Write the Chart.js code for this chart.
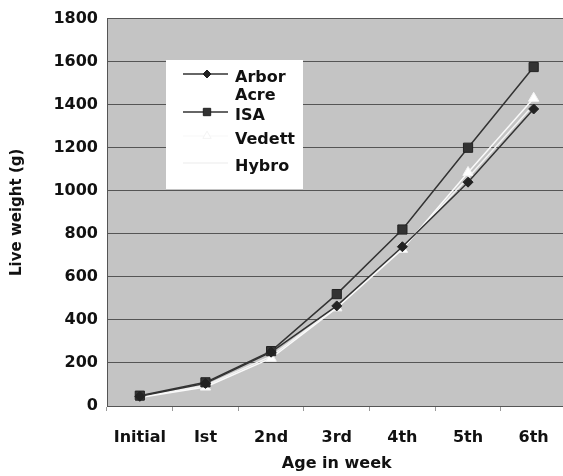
<!DOCTYPE html>
<html>
<head>
<meta charset="utf-8">
<script src="https://cdn.jsdelivr.net/npm/chart.js@4"></script>
<style>
  html, body { margin: 0; padding: 0; background: #fff; overflow: hidden; }
  #wrap { position: relative; width: 574px; height: 476px; }
</style>
</head>
<body>
<div id="wrap"><canvas id="growth-chart" width="574" height="476"></canvas></div>
<script>
// values (live weight, g)
const weeks = ["Initial", "Ist", "2nd", "3rd", "4th", "5th", "6th"];
const arborAcre = [45, 105, 250, 465, 740, 1040, 1380];
const isa = [48, 110, 255, 520, 820, 1200, 1575];
const vedett = [40, 88, 222, 456, 728, 1085, 1430];
const hybro = [42, 95, 232, 460, 735, 1060, 1400];
const yTicks = [0, 200, 400, 600, 800, 1000, 1200, 1400, 1600, 1800];

const FONT = "'DejaVu Sans', sans-serif";
const DARK = "#333";

// gray plot area like the old spreadsheet chart
const plotBackground = {
  id: "plotBackground",
  beforeDraw(chart) {
    const { ctx, chartArea: a } = chart;
    ctx.save();
    ctx.fillStyle = "#c4c4c4";
    ctx.fillRect(a.left, a.top, a.right - a.left, a.bottom - a.top);
    ctx.restore();
  },
};

// legend box drawn inside the plot
const insideLegend = {
  id: "insideLegend",
  afterDatasetsDraw(chart, args, opts) {
    const { ctx } = chart;
    ctx.save();
    ctx.fillStyle = "#fff";
    ctx.fillRect(opts.left, opts.top, opts.width, opts.height);
    ctx.font = "bold 16px " + FONT;
    ctx.textBaseline = "middle";
    chart.data.datasets.forEach((ds, i) => {
      const y = opts.rows[i];
      const my = y - 4;
      ctx.strokeStyle = ds.borderColor;
      ctx.lineWidth = ds.borderWidth;
      ctx.beginPath();
      ctx.moveTo(opts.left + 17, my);
      ctx.lineTo(opts.left + 62, my);
      ctx.stroke();
      if (ds.pointRadius > 0) {
        ctx.fillStyle = ds.pointBackgroundColor;
        ctx.strokeStyle = ds.pointBorderColor;
        ctx.lineWidth = 1;
        Chart.helpers.drawPoint(ctx, {
          pointStyle: ds.pointStyle,
          radius: ds.pointRadius * 0.8,
          borderWidth: 1,
        }, opts.left + 41, my);
      }
      // crude word wrap
      const words = ds.label.split(" ");
      const lines = [];
      let cur = "";
      words.forEach(w => {
        const t = cur ? cur + " " + w : w;
        if (cur && ctx.measureText(t).width > 62) { lines.push(cur); cur = w; }
        else cur = t;
      });
      lines.push(cur);
      ctx.fillStyle = "#111";
      lines.forEach((ln, k) => ctx.fillText(ln, opts.left + 69, y + k * 18));
    });
    ctx.restore();
  },
};

function pointSet(ds) {
  return Object.assign({
    borderWidth: 1.5,
    pointBorderWidth: 1,
    tension: 0,
  }, ds);
}

new Chart(document.getElementById("growth-chart"), {
  type: "line",
  data: {
    labels: weeks,
    datasets: [
      pointSet({ label: "Arbor Acre", data: arborAcre, borderColor: DARK,
        pointStyle: "rectRot", pointRadius: 5, pointBackgroundColor: "#222", pointBorderColor: "#222" }),
      pointSet({ label: "ISA", data: isa, borderColor: DARK,
        pointStyle: "rect", pointRadius: 6.5, pointBackgroundColor: "#333", pointBorderColor: "#222" }),
      pointSet({ label: "Vedett", data: vedett, borderColor: "#fafafa",
        pointStyle: "triangle", pointRadius: 6, pointBackgroundColor: "#fff", pointBorderColor: "#f4f4f4" }),
      pointSet({ label: "Hybro", data: hybro, borderColor: "#f2f2f2",
        pointStyle: "circle", pointRadius: 0, pointBackgroundColor: "#fff", pointBorderColor: "#fff" }),
    ],
  },
  options: {
    responsive: false,
    animation: false,
    layout: { padding: { left: 0, right: 1, top: 15, bottom: 0 } },
    plugins: {
      legend: { display: false },
      tooltip: { enabled: false },
      insideLegend: { left: 166, top: 60, width: 137, height: 129, rows: [78, 116, 140, 167] },
    },
    scales: {
      x: {
        offset: true,
        grid: { offset: true, drawOnChartArea: false, drawTicks: true, tickLength: 5, color: "#999" },
        border: { color: "#555", width: 1 },
        ticks: { color: "#111", font: { family: FONT, size: 16, weight: "bold" }, padding: 17, maxRotation: 0 },
        title: { display: true, text: "Age in week", color: "#111", font: { family: FONT, size: 16, weight: "bold" }, padding: { top: 0, bottom: 3 } },
        afterFit(scale) { scale.height = 70; },
      },
      y: {
        min: 0,
        max: 1800,
        afterBuildTicks(scale) { scale.ticks = yTicks.map(v => ({ value: v })); },
        grid: { drawTicks: false, color: "#555", lineWidth: 1 },
        border: { color: "#555", width: 1 },
        ticks: { color: "#111", font: { family: FONT, size: 16, weight: "bold" }, padding: 9,
          callback: v => String(v) },
        title: { display: true, text: "Live weight (g)", color: "#111", font: { family: FONT, size: 15, weight: "bold" }, padding: { top: 8, bottom: 0 } },
        afterFit(scale) { scale.width = 107; },
      },
    },
  },
  plugins: [plotBackground, insideLegend],
});
</script>
</body>
</html>
